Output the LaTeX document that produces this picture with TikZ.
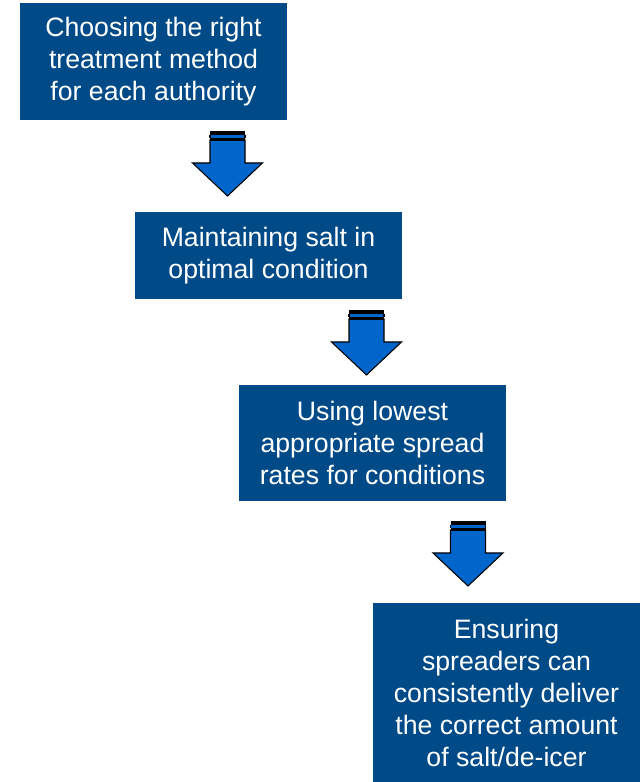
\documentclass[tikz,border=0pt]{standalone}
\usepackage{fontspec}
\setmainfont{Liberation Sans}
\usepackage{tikz}

\definecolor{boxblue}{RGB}{0,74,135}
\definecolor{arrowblue}{RGB}{0,102,204}

\tikzset{
  stage/.style={rectangle,fill=boxblue,text=white,align=center,inner sep=0pt,
    minimum width=200.25pt,font=\fontsize{20}{24}\selectfont},
  arrowbody/.style={fill=arrowblue,draw=black,line width=0.8pt,line join=miter}
}

% block arrow pointing down, top centre at #1
\newcommand{\flowarrow}[1]{%
  \begin{scope}[shift={(#1)}]
    \filldraw[arrowbody] (-17.5,-9) -- (-17.5,-32) -- (-35,-32) -- (0,-65)
      -- (35,-32) -- (17.5,-32) -- (17.5,-9) -- cycle;
    \fill[black] (-17.5,0) rectangle (17.5,-4);
    \fill[arrowblue] (-17.5,-4) rectangle (17.5,-7.5);
    \draw[black,line width=0.8pt] (-17.5,-4) -- (-17.5,-7.5) (17.5,-4) -- (17.5,-7.5);
    \fill[black] (-17.5,-7.5) rectangle (17.5,-10);
  \end{scope}}

\begin{document}
\begin{tikzpicture}[x=0.75pt,y=0.75pt]
    \useasboundingbox (0,0) rectangle (640,782);

    \node at (153.5,720.5) [stage,minimum height=87.75pt] (choose) {Choosing the right\\treatment method\\for each authority};
    \node at (268.5,526.5) [stage,minimum height=65.25pt] (maintain) {Maintaining salt in\\optimal condition};
    \node at (372.5,339) [stage,minimum height=87pt] (spread) {Using lowest\\appropriate spread\\rates for conditions};
    \node at (506.5,89.5) [stage,minimum height=134.25pt] (deliver) {Ensuring\\spreaders can\\consistently deliver\\the correct amount\\of salt/de-icer};

    \coordinate (a1) at (227.5,651);
    \coordinate (a2) at (366.5,472);
    \coordinate (a3) at (468,261);
    \flowarrow{a1}
    \flowarrow{a2}
    \flowarrow{a3}
\end{tikzpicture}
\end{document}
